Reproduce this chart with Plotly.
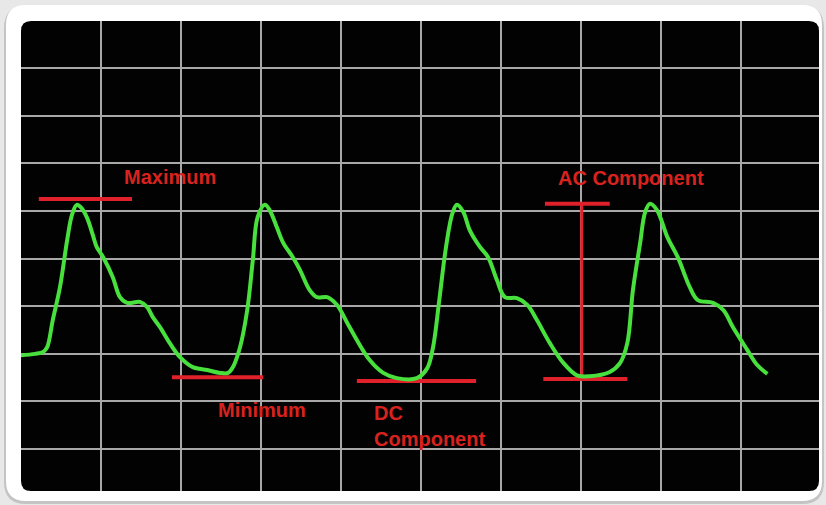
import plotly.graph_objects as go

# PPG waveform, in grid divisions (x) and amplitude divisions (y)
wave_x = [0.00, 0.18, 0.28, 0.33, 0.40, 0.49, 0.58, 0.64, 0.70, 0.76, 0.83, 0.90, 0.95, 1.03,
          1.15, 1.24, 1.33, 1.49, 1.58, 1.65, 1.74, 1.86, 1.99, 2.15, 2.33, 2.49, 2.59, 2.65,
          2.74, 2.83, 2.90, 2.96, 3.05,
          3.11, 3.20, 3.28, 3.40, 3.49, 3.61, 3.70, 3.83, 3.95, 4.08, 4.20, 4.36, 4.53, 4.70,
          4.95, 5.08, 5.15, 5.23, 5.30, 5.36, 5.40, 5.45,
          5.53, 5.61, 5.74, 5.84, 5.95, 6.05, 6.20, 6.33, 6.45, 6.61, 6.78, 6.95, 7.11, 7.36,
          7.49, 7.58, 7.65, 7.74, 7.80, 7.86,
          7.95, 8.08, 8.21, 8.36, 8.46, 8.65, 8.78, 8.90, 9.08, 9.20, 9.33]
wave_y = [2.97, 3.00, 3.04, 3.14, 3.71, 4.40, 5.39, 5.92, 6.13, 6.06, 5.85, 5.50, 5.24, 5.03,
          4.61, 4.19, 4.07, 4.09, 3.98, 3.77, 3.56, 3.23, 2.93, 2.72, 2.66, 2.60, 2.60, 2.72,
          3.14, 3.92, 4.97, 5.87, 6.13,
          6.02, 5.66, 5.33, 5.03, 4.76, 4.34, 4.19, 4.19, 4.03, 3.65, 3.29, 2.87, 2.60, 2.49,
          2.49, 2.70, 3.12, 4.13, 5.08, 5.71, 5.98, 6.13,
          5.98, 5.60, 5.24, 5.03, 4.55, 4.19, 4.17, 4.03, 3.71, 3.23, 2.81, 2.55, 2.53, 2.62,
          2.81, 3.23, 4.34, 5.33, 5.96, 6.15,
          6.02, 5.45, 5.03, 4.40, 4.13, 4.07, 3.92, 3.56, 3.08, 2.77, 2.58]

# red marker segments: (x0, x1, y0, y1)
max_line = (0.225, 1.39, 6.25, 6.25)
min_line = (1.89, 3.03, 2.51, 2.51)
dc_line = (4.20, 5.69, 2.43, 2.43)
ac_top = (6.55, 7.36, 6.15, 6.15)
ac_vert = (7.01, 7.01, 6.15, 2.51)
ac_bottom = (6.53, 7.58, 2.47, 2.47)
segments = [max_line, min_line, dc_line, ac_top, ac_vert, ac_bottom]

labels = ["Maximum", "Minimum", "DC<br>Component", "AC Component"]
label_x = [1.86, 3.01, 4.39, 7.625]
label_y = [6.71, 1.82, 2.03, 6.69]

W, H = 826, 505
ML, MR, MT, MB = 21, 7, 21, 14
PW, PH = W - ML - MR, H - MT - MB

RED = "#e0202a"
GREEN = "#48e03c"
BG = "#e8e8e8"


def px(x):
    return (x - ML) / PW


def py(y):
    return (H - MB - y) / PH


def rounded(x0, y0, x1, y1, r):
    # rounded rect in paper coords from pixel box
    rx, ry = r / PW, r / PH
    a, b, c, d = px(x0), px(x1), py(y0), py(y1)  # c top, d bottom
    return (f"M {a+rx},{c} L {b-rx},{c} Q {b},{c} {b},{c-ry} L {b},{d+ry} "
            f"Q {b},{d} {b-rx},{d} L {a+rx},{d} Q {a},{d} {a},{d+ry} "
            f"L {a},{c-ry} Q {a},{c} {a+rx},{c} Z")


fig = go.Figure()

for x0, x1, y0, y1 in segments:
    w = 3 if x0 == x1 else 4
    fig.add_trace(go.Scatter(x=[x0, x1], y=[y0, y1], mode="lines",
                             line=dict(color=RED, width=w), hoverinfo="skip"))

fig.add_trace(go.Scatter(x=wave_x, y=wave_y, mode="lines",
                         line=dict(color=GREEN, width=4, shape="spline", smoothing=1.0)))

for t, x, y in zip(labels, label_x, label_y):
    multi = "<br>" in t
    fig.add_annotation(x=x, y=y, text=t, showarrow=False,
                       xanchor="left" if multi else "center",
                       yanchor="top" if multi else "middle",
                       align="left",
                       font=dict(family="Liberation Sans, Arial", size=20,
                                 color="#d9221e", weight="bold"))

shapes = [
    dict(type="path", xref="paper", yref="paper", layer="below",
         path=rounded(4, 6, 824, 504, 22), fillcolor="#c4c4c4", line=dict(width=0)),
    dict(type="path", xref="paper", yref="paper", layer="below",
         path=rounded(6, 5, 822, 501, 20), fillcolor="#ffffff", line=dict(width=0)),
    dict(type="path", xref="paper", yref="paper", layer="below",
         path=rounded(21, 21, 819, 491, 10), fillcolor="#020202", line=dict(width=0)),
]

fig.update_layout(
    width=W, height=H,
    margin=dict(l=ML, r=MR, t=MT, b=MB),
    paper_bgcolor=BG,
    plot_bgcolor="rgba(0,0,0,0)",
    showlegend=False,
    shapes=shapes,
    xaxis=dict(range=[0.003, 9.975], dtick=1, tick0=0, showgrid=True,
               gridcolor="#a8a8a8", gridwidth=2, zeroline=False,
               showticklabels=False, showline=False, fixedrange=True),
    yaxis=dict(range=[0.12, 9.99], dtick=1, tick0=0, showgrid=True,
               gridcolor="#a8a8a8", gridwidth=2, zeroline=False,
               showticklabels=False, showline=False, fixedrange=True),
)

fig.write_html("out.html",
               config={"displayModeBar": False},
               post_script="document.body.style.margin='0';"
                           f"document.body.style.background='{BG}';"
                           "document.body.style.overflow='hidden';")
